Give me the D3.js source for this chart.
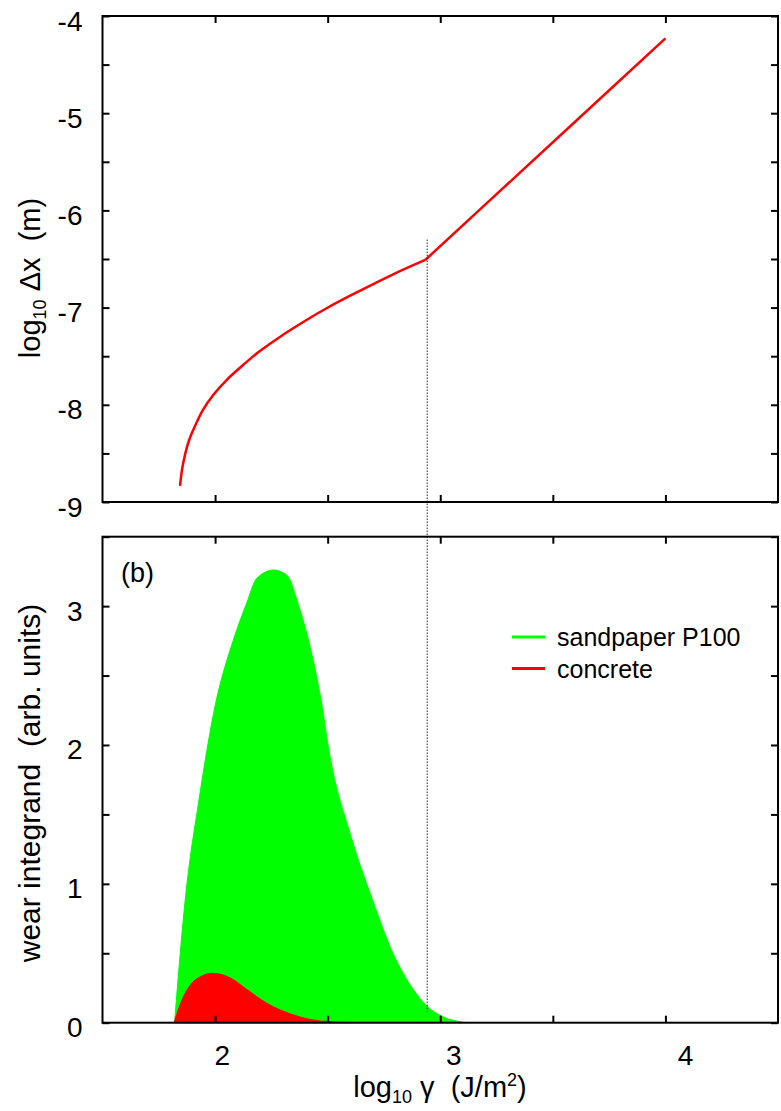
<!DOCTYPE html>
<html>
<head>
  <meta charset="UTF-8">
  <style>
    body { margin: 0; background: #fff; }
    text { font-family: "Liberation Sans", Arial, sans-serif; fill: #000; }
  </style>
</head>
<body>
<div id="chart_div"></div>

<script src="https://d3js.org/d3.v7.min.js"></script>
<script>

let width = 781, height = 1111;

// panel (a): log10 gamma vs log10 delta x  (curved part, then the straight part after the knee)
const curveX = [1.8444, 1.8529, 1.8662, 1.8849, 1.9129, 1.9462, 1.9916, 2.0511, 2.1244, 2.1858, 2.2684, 2.3467, 2.4951, 2.6356, 2.784, 2.9333];
const curveY = [-8.835, -8.671, -8.516, -8.362, -8.208, -8.053, -7.899, -7.745, -7.591, -7.47, -7.333, -7.213, -7.007, -6.836, -6.665, -6.51];
const lineX = [2.9333, 3.25, 3.6, 4.0];
const lineY = [-6.51, -5.833, -5.085, -4.23];

// panel (b): outer envelope of the sandpaper curves, and concrete
const sandX = [1.82, 1.867, 1.93, 2.0, 2.08, 2.14, 2.185, 2.26, 2.32, 2.37, 2.42, 2.47, 2.51, 2.6, 2.7, 2.79, 2.88, 2.94, 3.01, 3.12];
const sandY = [0, 0.88, 1.62, 2.28, 2.75, 3.02, 3.2, 3.26, 3.22, 3.01, 2.72, 2.33, 1.92, 1.36, 0.88, 0.5, 0.24, 0.12, 0.045, 0];
const concX = [1.818, 1.84, 1.87, 1.9, 1.94, 1.98, 2.02, 2.07, 2.14, 2.23, 2.35, 2.47, 2.6];
const concY = [0, 0.11, 0.22, 0.29, 0.335, 0.355, 0.35, 0.32, 0.24, 0.14, 0.055, 0.012, 0.002];

const seriesNames = ["sandpaper P100", "concrete"];
const seriesColors = ["#00ff00", "#ff0000"];

const xTicks = [2, 2.5, 3, 3.5, 4];
const xLabels = [2, 3, 4];
const yTopTicks = d3.range(-9, -3.99, 0.5);
const yTopLabels = [-9, -8, -7, -6, -5, -4];
const yBotTicks = d3.range(0, 3.51, 0.5);
const yBotLabels = [0, 1, 2, 3];

// marker line between panels
const markX = 2.942, markTop = -6.3, markBot = 0.08;

let svg = d3.select("#chart_div")
    .append("svg")
    .attr("width", width)
    .attr("height", height)
    .attr("viewBox", "0 0 " + width + " " + height);

svg.append("rect").attr("width", width).attr("height", height).attr("fill", "white");

const x = d3.scaleLinear().domain([1.5, 4.5]).range([102.5, 778]);
const xLab = d3.scaleLinear().domain([2, 4]).range([221.7, 685]); // labels sit a little right of their ticks
const yTop = d3.scaleLinear().domain([-9, -4]).range([502, 16]);
const yBot = d3.scaleLinear().domain([0, 3.5]).range([1022.7, 536.7]);

function frame(y, yTicks) {
  let [y1, y0] = y.range();
  // inward ticks on all four sides
  svg.append("g").attr("transform", `translate(0,${y0})`)
    .call(d3.axisBottom(x).tickValues(xTicks).tickSize(7).tickFormat(""));
  svg.append("g").attr("transform", `translate(0,${y1})`)
    .call(d3.axisTop(x).tickValues(xTicks).tickSize(7).tickFormat(""));
  svg.append("g").attr("transform", `translate(${x.range()[0]},0)`)
    .call(d3.axisRight(y).tickValues(yTicks).tickSize(7).tickFormat(""));
  svg.append("g").attr("transform", `translate(${x.range()[1]},0)`)
    .call(d3.axisLeft(y).tickValues(yTicks).tickSize(7).tickFormat(""));
  svg.selectAll(".domain").remove();
  svg.selectAll(".tick line").attr("stroke", "#000").attr("stroke-width", 2);
  svg.append("rect")
    .attr("x", x.range()[0]).attr("y", y0)
    .attr("width", x.range()[1] - x.range()[0]).attr("height", y1 - y0)
    .attr("fill", "none").attr("stroke", "#000").attr("stroke-width", 2);
}

function yLabels(y, vals) {
  let g = svg.append("g").attr("transform", `translate(${x.range()[0]},0)`)
    .call(d3.axisLeft(y).tickValues(vals).tickSize(0).tickPadding(20).tickFormat(d => String(d)));
  g.select(".domain").remove();
  g.attr("font-size", 28).attr("font-family", "Liberation Sans, Arial, sans-serif");
  g.selectAll("text").attr("dy", "0.5em");
}

// ---- panel (b) marks first so the frame sits on top
const area = d3.area().x(d => x(d[0])).y0(yBot(0)).y1(d => yBot(d[1])).curve(d3.curveMonotoneX);
svg.append("path")
  .datum(d3.zip(sandX, sandY))
  .attr("d", area)
  .attr("fill", seriesColors[0])
  .attr("stroke", seriesColors[0])
  .attr("stroke-width", 1);
svg.append("path")
  .datum(d3.zip(concX, concY))
  .attr("d", area)
  .attr("fill", seriesColors[1])
  .attr("stroke", seriesColors[1])
  .attr("stroke-width", 1);

// ---- panel (a) curve
svg.append("path")
  .datum(d3.zip(curveX, curveY))
  .attr("d", d3.line().x(d => x(d[0])).y(d => yTop(d[1])).curve(d3.curveCatmullRom.alpha(0.5)))
  .attr("fill", "none")
  .attr("stroke", "#ff0000")
  .attr("stroke-width", 2.5);
svg.append("path")
  .datum(d3.zip(lineX, lineY))
  .attr("d", d3.line().x(d => x(d[0])).y(d => yTop(d[1])))
  .attr("fill", "none")
  .attr("stroke", "#ff0000")
  .attr("stroke-width", 2.5);

// dotted marker
svg.append("line")
  .attr("x1", x(markX)).attr("x2", x(markX))
  .attr("y1", yTop(markTop)).attr("y2", yBot(markBot))
  .attr("stroke", "#222").attr("stroke-width", 1)
  .attr("stroke-dasharray", "1.5,1.5");

frame(yTop, yTopTicks);
frame(yBot, yBotTicks);
yLabels(yTop, yTopLabels);
yLabels(yBot, yBotLabels);

// x labels
let gx = svg.append("g").attr("transform", `translate(0,${yBot(0)})`)
  .call(d3.axisBottom(xLab).tickValues(xLabels).tickSize(0).tickPadding(22).tickFormat(d => String(d)));
gx.select(".domain").remove();
gx.attr("font-size", 28).attr("font-family", "Liberation Sans, Arial, sans-serif");

// axis titles
let xt = svg.append("text")
  .attr("x", 440).attr("y", 1097)
  .attr("text-anchor", "middle")
  .attr("font-size", 29)
  .style("white-space", "pre");
xt.append("tspan").text("log");
xt.append("tspan").attr("font-size", 18).attr("dy", 6).text("10");
xt.append("tspan").attr("dy", -6).text(" γ  (J/m");
xt.append("tspan").attr("font-size", 18).attr("dy", -11).text("2");
xt.append("tspan").attr("dy", 11).text(")");

let yt1 = svg.append("text")
  .attr("transform", "translate(40,278) rotate(-90)")
  .attr("text-anchor", "middle")
  .attr("font-size", 29)
  .style("white-space", "pre");
yt1.append("tspan").text("log");
yt1.append("tspan").attr("font-size", 18).attr("dy", 6).text("10");
yt1.append("tspan").attr("dy", -6).text(" Δx  (m)");

svg.append("text")
  .attr("transform", "translate(40,783) rotate(-90)")
  .attr("text-anchor", "middle")
  .attr("font-size", 30)
  .style("white-space", "pre")
  .text("wear integrand  (arb. units)");

svg.append("text")
  .attr("x", 121).attr("y", 582)
  .attr("font-size", 27)
  .text("(b)");

// legend
let legend = svg.append("g").attr("transform", "translate(512,637)");
seriesNames.forEach((name, i) => {
  legend.append("line")
    .attr("x1", 0).attr("x2", 33)
    .attr("y1", i * 31.6).attr("y2", i * 31.6)
    .attr("stroke", seriesColors[i]).attr("stroke-width", 3);
  legend.append("text")
    .attr("x", 45).attr("y", i * 31.6 + 9)
    .attr("font-size", 25)
    .text(name);
});

</script>

</body>
</html>
